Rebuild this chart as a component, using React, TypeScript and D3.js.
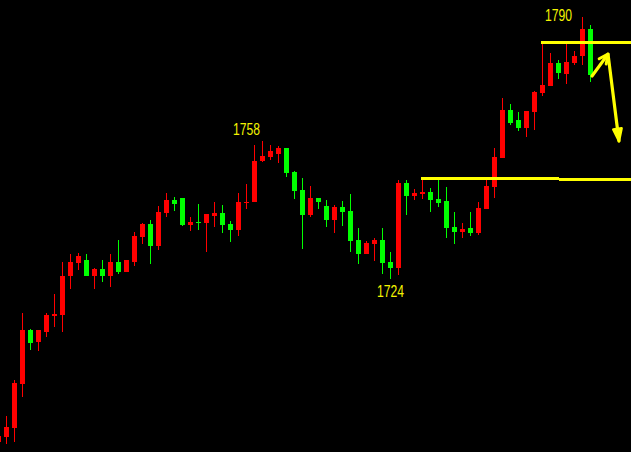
import React from "react";
import * as d3 from "d3";

const W = 631;
const H = 452;

// OHLC data, bar index starts at -1 (first bar partly cut off)
const firstIndex = -1;
const opens = [
  1682.7, 1684.0, 1686.2, 1697.3, 1710.9, 1707.9, 1710.4, 1714.4, 1714.7, 1724.5,
  1727.8, 1728.5, 1724.5, 1726.3, 1724.5, 1728.0, 1725.5, 1728.0, 1734.3, 1737.6,
  1732.1, 1740.4, 1743.7, 1744.2, 1737.4, 1738.1, 1737.9, 1739.6, 1740.4, 1737.6,
  1736.1, 1742.9, 1743.2, 1753.5, 1754.5, 1755.2, 1756.7, 1750.7, 1746.2, 1739.9,
  1744.2, 1742.1, 1738.6, 1741.9, 1740.9, 1733.6, 1730.0, 1732.6, 1733.6, 1728.0,
  1726.5, 1747.9, 1744.7, 1745.2, 1745.7, 1743.9, 1743.4, 1736.9, 1735.6, 1736.6,
  1735.3, 1741.4, 1746.9, 1754.2, 1766.3, 1763.8, 1761.8, 1765.8, 1770.6, 1772.4,
  1778.2, 1775.4, 1778.2, 1779.9, 1786.7,
];
const highs = [
  1684.7, 1689.2, 1698.3, 1715.2, 1711.2, 1710.9, 1715.2, 1720.0, 1728.0, 1730.0,
  1730.3, 1730.0, 1726.5, 1728.5, 1730.0, 1733.6, 1728.5, 1735.6, 1737.9, 1738.6,
  1742.1, 1745.4, 1744.4, 1744.2, 1739.4, 1742.6, 1740.1, 1743.2, 1742.4, 1738.4,
  1745.4, 1747.7, 1757.5, 1758.5, 1757.5, 1757.3, 1756.7, 1751.0, 1749.2, 1747.2,
  1744.2, 1743.7, 1742.4, 1743.4, 1745.2, 1736.6, 1733.3, 1734.1, 1736.6, 1730.6,
  1748.7, 1748.7, 1746.4, 1749.2, 1746.7, 1748.9, 1746.9, 1740.6, 1737.9, 1740.6,
  1743.2, 1748.9, 1756.7, 1769.3, 1767.8, 1765.8, 1766.1, 1771.1, 1783.2, 1780.7,
  1778.9, 1782.9, 1781.2, 1789.75, 1787.7,
];
const lows = [
  1681.7, 1682.2, 1682.7, 1694.0, 1705.9, 1705.6, 1709.1, 1711.7, 1710.4, 1721.2,
  1726.0, 1724.5, 1721.2, 1723.0, 1721.7, 1725.0, 1725.5, 1727.0, 1732.6, 1727.5,
  1731.1, 1739.4, 1740.9, 1737.1, 1735.8, 1736.1, 1730.6, 1736.9, 1735.3, 1733.1,
  1734.6, 1741.4, 1743.2, 1753.2, 1753.7, 1753.0, 1749.4, 1743.9, 1731.3, 1739.4,
  1741.4, 1736.9, 1735.3, 1737.1, 1730.6, 1727.5, 1730.0, 1728.3, 1725.0, 1723.8,
  1724.8, 1739.9, 1743.7, 1743.9, 1740.6, 1741.9, 1734.1, 1732.6, 1734.1, 1734.6,
  1734.8, 1741.4, 1744.2, 1754.2, 1762.5, 1761.0, 1759.5, 1761.3, 1769.8, 1772.4,
  1774.1, 1772.9, 1777.7, 1777.7, 1773.4,
];
const closes = [
  1684.2, 1686.5, 1697.6, 1710.9, 1707.6, 1710.9, 1714.7, 1714.9, 1724.5, 1728.0,
  1729.5, 1724.5, 1726.3, 1724.5, 1728.0, 1725.5, 1728.5, 1734.6, 1737.6, 1732.1,
  1740.6, 1743.7, 1742.6, 1737.4, 1738.1, 1737.9, 1740.1, 1740.4, 1737.4, 1736.1,
  1743.2, 1743.2, 1753.5, 1754.7, 1756.0, 1756.7, 1750.5, 1745.9, 1739.9, 1744.2,
  1743.2, 1738.6, 1741.9, 1740.6, 1733.3, 1730.0, 1732.8, 1733.6, 1727.8, 1726.5,
  1747.9, 1744.7, 1745.4, 1745.7, 1743.7, 1742.9, 1736.6, 1735.6, 1736.3, 1735.3,
  1741.6, 1747.2, 1754.5, 1766.3, 1763.0, 1761.8, 1766.1, 1770.9, 1772.6, 1778.2,
  1775.6, 1778.4, 1779.9, 1786.7, 1775.1,
];

// Peak / trough labels
const peakLabels = ["1758", "1724", "1790"];
const peakValues = [1758, 1724, 1790];
const peakBars = [30, 48, 69];

// Horizontal drawn levels
const levelPrices = [1749.05, 1748.8, 1783.3];
const levelFrom = [51.8, 69.0, 66.8];
const levelTo = [69.0, 79.0, 79.0];

// Hand-drawn arrow path (bar index, price)
const arrowIdx = [73.19, 75.19, 76.56];
const arrowPrice = [1774.9, 1780.4, 1758.5];

const UP = "#ff0000";
const DOWN = "#00ff00";
const YELLOW = "#ffff00";

export default function App() {
  const n = opens.length;
  const x = d3.scaleLinear().domain([-1, 73]).range([-1.5, 590.5]);
  const y = d3.scaleLinear().domain([1680.17, 1794.03]).range([H, 0]);

  const bars = d3.range(n).map((i) => {
    const idx = firstIndex + i;
    const o = opens[i], c = closes[i], h = highs[i], l = lows[i];
    const up = c >= o;
    const cx = x(idx);
    const top = Math.round(y(Math.max(o, c)));
    const bot = Math.round(y(Math.min(o, c)));
    return {
      key: idx,
      cx,
      color: up ? UP : DOWN,
      top,
      h: Math.max(1, bot - top),
      yh: Math.round(y(h)),
      yl: Math.round(y(l)),
    };
  });

  const labelDy = [-8.5, 19, 5];

  const pts: [number, number][] = arrowIdx.map((v, i) => [x(v), y(arrowPrice[i])]);
  const line = d3.line();

  const head = (from: [number, number], to: [number, number], len: number, spread: number) => {
    const ang = Math.atan2(to[1] - from[1], to[0] - from[0]);
    const a1 = ang + Math.PI - spread;
    const a2 = ang + Math.PI + spread;
    return [
      [to[0] + len * Math.cos(a1), to[1] + len * Math.sin(a1)],
      to,
      [to[0] + len * Math.cos(a2), to[1] + len * Math.sin(a2)],
    ] as [number, number][];
  };

  const head1 = head(pts[0], pts[1], 10, 0.45);
  const head2 = head(pts[1], pts[2], 13, 0.33);

  return (
    <svg
      width={W}
      height={H}
      style={{ position: "absolute", left: 0, top: 0, background: "#000", display: "block" }}
    >
      <rect x={0} y={0} width={W} height={H} fill="#000" />
      <g shapeRendering="crispEdges">
        {bars.map((b) => (
          <g key={b.key}>
            <line x1={b.cx} x2={b.cx} y1={b.yh} y2={b.yl} stroke={b.color} strokeWidth={1} />
            <rect x={b.cx - 2.5} y={b.top} width={5} height={b.h} fill={b.color} />
          </g>
        ))}
      </g>
      <g shapeRendering="crispEdges">
        {levelPrices.map((p, i) => (
          <line
            key={i}
            x1={x(levelFrom[i])}
            x2={x(levelTo[i])}
            y1={y(p)}
            y2={y(p)}
            stroke={YELLOW}
            strokeWidth={3}
          />
        ))}
      </g>
      <path d={line(pts) || ""} fill="none" stroke={YELLOW} strokeWidth={3.2} strokeLinejoin="round" strokeLinecap="round" />
      <path d={line(head1) || ""} fill="none" stroke={YELLOW} strokeWidth={3} strokeLinejoin="round" strokeLinecap="round" />
      <path d={(line(head2) || "") + "Z"} fill={YELLOW} stroke={YELLOW} strokeWidth={2.5} strokeLinejoin="round" />
      {peakLabels.map((t, i) => (
        <text
          key={t}
          x={x(peakBars[i])}
          y={y(peakValues[i]) + labelDy[i]}
          textAnchor="middle"
          fill="#f4f400"
          fontFamily="'Liberation Sans', Arial, sans-serif"
          fontSize={16}
          textLength={27}
          lengthAdjust="spacingAndGlyphs"
        >
          {t}
        </text>
      ))}
    </svg>
  );
}
